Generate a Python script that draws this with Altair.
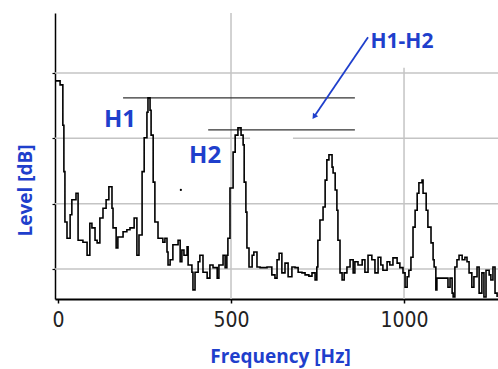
import altair as alt
import pandas as pd

# Spectrum
freq_hz = [-6, 6, 14, 17, 20, 26, 35, 40, 52, 58,
           72, 84, 92, 98, 107, 113, 121, 130, 139, 147,
           156, 159, 168, 173, 188, 199, 208, 220, 228, 234,
           243, 249, 257, 260, 266, 269, 275, 280, 289, 303,
           309, 315, 318, 324, 332, 347, 353, 358, 364, 373,
           376, 387, 390, 396, 405, 410, 419, 431, 439, 448,
           460, 465, 477, 483, 488, 491, 497, 506, 512, 520,
           529, 535, 538, 543, 546, 552, 561, 566, 575, 584,
           595, 604, 618, 627, 633, 639, 647, 656, 665, 676,
           685, 694, 705, 714, 725, 734, 743, 748, 751, 757,
           766, 772, 777, 783, 792, 795, 801, 806, 809, 815,
           821, 827, 835, 844, 853, 858, 867, 879, 887, 896,
           907, 916, 925, 933, 939, 951, 959, 968, 980, 988,
           997, 1003, 1009, 1014, 1020, 1026, 1032, 1038, 1043, 1052,
           1055, 1064, 1069, 1078, 1084, 1087, 1092, 1095, 1110, 1124,
           1127, 1133, 1139, 1142, 1147, 1153, 1159, 1168, 1176, 1182,
           1188, 1196, 1202, 1211, 1217, 1225, 1231, 1237, 1246, 1251,
           1257, 1263, 1269]
level_db = [48.8, 48.2, 42.0, 34.9, 27.2, 24.7, 28.3, 30.6, 31.6, 24.4,
            24.1, 22.1, 27.0, 26.3, 24.4, 24.0, 27.8, 29.3, 30.6, 32.6,
            29.3, 26.3, 23.2, 24.9, 25.7, 26.0, 26.3, 27.8, 22.1, 25.2,
            34.9, 40.1, 44.0, 46.2, 44.3, 40.5, 33.3, 27.2, 24.7, 24.1,
            24.7, 22.6, 20.6, 21.4, 23.7, 24.4, 21.1, 22.9, 22.1, 23.4,
            20.6, 19.5, 16.8, 19.5, 21.1, 22.1, 19.5, 18.6, 20.6, 20.2,
            18.6, 20.6, 22.1, 20.2, 22.1, 24.7, 32.4, 37.9, 40.5, 41.6,
            40.5, 39.0, 33.3, 28.7, 23.2, 20.3, 22.1, 22.6, 20.3, 20.2,
            20.2, 20.3, 19.1, 18.6, 21.4, 22.4, 19.4, 20.9, 18.8, 20.3,
            20.2, 19.5, 19.4, 19.1, 18.9, 19.4, 18.3, 20.3, 24.4, 27.5,
            29.5, 33.6, 36.7, 37.5, 35.6, 34.7, 32.1, 29.0, 24.4, 19.4,
            18.3, 19.4, 20.3, 21.4, 19.4, 21.1, 20.6, 21.4, 19.5, 22.1,
            21.4, 19.4, 21.8, 20.6, 19.8, 21.1, 20.6, 21.7, 20.9, 20.2,
            19.4, 17.2, 18.8, 19.8, 21.8, 26.4, 29.0, 31.6, 33.2, 33.6,
            31.6, 29.0, 26.4, 24.0, 21.4, 20.3, 16.8, 18.6, 18.6, 18.6,
            17.2, 18.6, 16.3, 15.7, 20.3, 21.4, 22.1, 21.4, 21.8, 21.1,
            19.4, 17.2, 18.8, 20.3, 16.3, 19.4, 15.7, 19.8, 19.1, 18.3,
            20.3, 16.3, 15.7]

x_ticks = [0, 500, 1000]
y_grid = [20, 30, 40, 50]
x_domain = [-8.7, 1271.6]
y_domain = [15.4, 59.2]

# Gridline segments (the 40 dB line is interrupted in the picture)
hgrid_y = [50, 40, 40, 30, 20]
hgrid_x1 = [-8.7, -8.7, 679, -8.7, -8.7]
hgrid_x2 = [1271.6, 555, 1271.6, 1271.6, 1271.6]
vgrid_x = [500, 1000]
vgrid_y1 = [59.2, 50.8]
vgrid_y2 = [15.4, 15.4]

# Peak level markers
peak_names = ["H1", "H2"]
peak_level = [46.2, 41.3]
peak_x1 = [188, 434]
peak_x2 = [858, 858]

# Text annotations
ann_text = ["H1", "H2", "H1-H2"]
ann_x = [179, 425, 994]
ann_y = [42.8, 37.3, 54.8]
ann_size = [24, 24, 21]

# Arrow
arrow_x1, arrow_y1 = 896, 55.5
arrow_x2, arrow_y2 = 740, 43.3

stray_x, stray_y = [355], [32.1]

BLUE = "#1f3fcc"

xs = alt.Scale(domain=x_domain, nice=False, zero=False)
ys = alt.Scale(domain=y_domain, nice=False, zero=False)

spec = pd.DataFrame({"f": freq_hz, "L": level_db})
hg = pd.DataFrame({"y": hgrid_y, "x1": hgrid_x1, "x2": hgrid_x2})
vg = pd.DataFrame({"x": vgrid_x, "y1": vgrid_y1, "y2": vgrid_y2})
pk = pd.DataFrame({"n": peak_names, "y": peak_level, "x1": peak_x1, "x2": peak_x2})
ann = pd.DataFrame({"t": ann_text, "x": ann_x, "y": ann_y, "s": ann_size})
arr = pd.DataFrame({"x": [arrow_x1], "y": [arrow_y1], "x2": [arrow_x2], "y2": [arrow_y2]})
tip = pd.DataFrame({"x": [arrow_x2], "y": [arrow_y2]})
stray = pd.DataFrame({"x": stray_x, "y": stray_y})

hgrid = alt.Chart(hg).mark_rule(color="#c4c4c4", strokeWidth=1.5).encode(
    x=alt.X("x1:Q", scale=xs), x2="x2:Q", y=alt.Y("y:Q", scale=ys))
vgrid = alt.Chart(vg).mark_rule(color="#c4c4c4", strokeWidth=1.5).encode(
    x=alt.X("x:Q", scale=xs), y=alt.Y("y1:Q", scale=ys), y2="y2:Q")

peaks = alt.Chart(pk).mark_rule(color="#333333", strokeWidth=1.2).encode(
    x=alt.X("x1:Q", scale=xs), x2="x2:Q", y=alt.Y("y:Q", scale=ys))

line = alt.Chart(spec).mark_line(color="black", strokeWidth=1.6,
                                 interpolate="step-after").encode(
    x=alt.X("f:Q", scale=xs,
            axis=alt.Axis(values=x_ticks, format="d", grid=False, title="Frequency [Hz]",
                          domainColor="black", domainWidth=2, tickColor="black",
                          tickSize=4, tickWidth=1.5,
                          labelFont="DejaVu Sans Condensed, Liberation Sans Narrow, Liberation Sans",
                          labelFontSize=21, labelColor="#222222", labelPadding=6,
                          titleFont="Open Sans", titleFontSize=19, titleFontWeight="bold",
                          titleColor=BLUE, titleX=225, titleY=63, titleAlign="center",
                          titleBaseline="alphabetic", titleAnchor="start")),
    y=alt.Y("L:Q", scale=ys,
            axis=alt.Axis(values=y_grid, grid=False, labels=False, title="Level [dB]",
                          domainColor="black", domainWidth=1.5, tickColor="black",
                          tickSize=3, tickWidth=1.2,
                          titleFont="Open Sans", titleFontSize=19, titleFontWeight="bold",
                          titleColor=BLUE, titleX=-24, titleY=177, titleAngle=-90,
                          titleAlign="center", titleBaseline="alphabetic", titleAnchor="start")),
)

texts = alt.Chart(ann).mark_text(font="Open Sans", fontWeight="bold", color=BLUE,
                                 align="center", baseline="middle").encode(
    x=alt.X("x:Q", scale=xs), y=alt.Y("y:Q", scale=ys),
    text="t:N", size=alt.Size("s:Q", scale=None, legend=None))

arrow = alt.Chart(arr).mark_rule(color=BLUE, strokeWidth=1.8).encode(
    x=alt.X("x:Q", scale=xs), y=alt.Y("y:Q", scale=ys), x2="x2:Q", y2="y2:Q")
head = alt.Chart(tip).mark_point(shape="triangle-up", filled=True, color=BLUE,
                                 size=40, angle=214, opacity=1).encode(
    x=alt.X("x:Q", scale=xs), y=alt.Y("y:Q", scale=ys))

dot = alt.Chart(stray).mark_point(filled=True, color="black", size=5, opacity=1).encode(
    x=alt.X("x:Q", scale=xs), y=alt.Y("y:Q", scale=ys))

chart = alt.layer(hgrid, vgrid, peaks, line, texts, arrow, head, dot).properties(
    width=443, height=286,
    autosize=alt.AutoSizeParams(type="none"),
    padding={"left": 55, "top": 13, "right": 0, "bottom": 70},
    background="white",
).configure_view(strokeWidth=0)

chart.save("out.html", embed_options={"renderer": "svg", "actions": False})
